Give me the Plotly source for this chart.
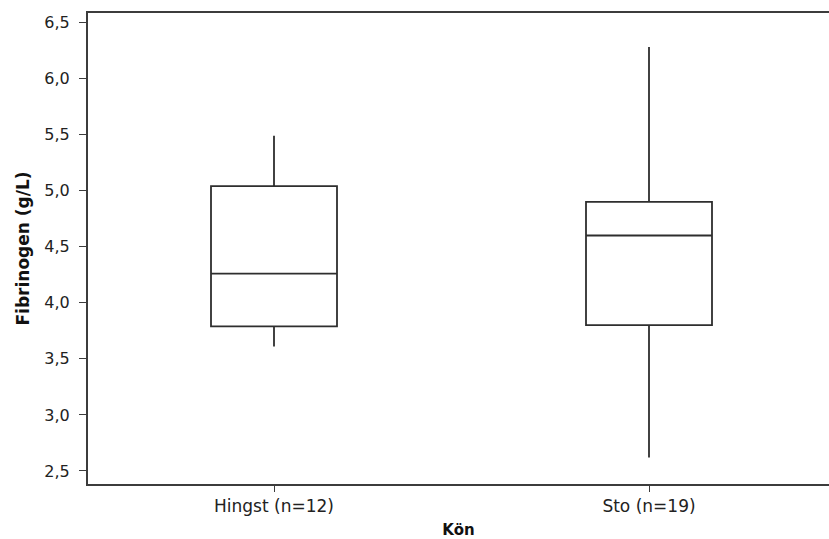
import plotly.graph_objects as go

categories = ["Hingst (n=12)", "Sto (n=19)"]
q1 = [3.79, 3.80]
median = [4.26, 4.60]
q3 = [5.04, 4.90]
lower_whisker = [3.61, 2.62]
upper_whisker = [5.49, 6.28]
y_ticks = [2.5, 3.0, 3.5, 4.0, 4.5, 5.0, 5.5, 6.0, 6.5]

line_col = "#2e2e2e"
axis_col = "#3c3c3c"

fig = go.Figure()
for i, cat in enumerate(categories):
    fig.add_trace(go.Box(
        x=[cat],
        q1=[q1[i]], median=[median[i]], q3=[q3[i]],
        lowerfence=[lower_whisker[i]], upperfence=[upper_whisker[i]],
        width=0.336,
        whiskerwidth=0,
        fillcolor="white",
        line=dict(color=line_col, width=1.8),
        boxpoints=False,
        showlegend=False,
        hoverinfo="skip",
    ))

font_family = "DejaVu Sans, Verdana, sans-serif"

fig.update_layout(
    width=829, height=539,
    margin=dict(l=88, r=0, t=13, b=55),
    paper_bgcolor="white", plot_bgcolor="white",
    separators=", ",
    font=dict(family=font_family, size=16, color="#222222"),
    xaxis=dict(
        type="category",
        categoryorder="array", categoryarray=categories,
        range=[-0.496, 1.48],
        showline=True, linecolor=axis_col, linewidth=2, mirror=True,
        ticks="outside", ticklen=6, tickwidth=1, tickcolor=axis_col,
        showgrid=False, zeroline=False,
        tickfont=dict(size=17, color="#222222"),
        title=dict(text="<b>Kön</b>", font=dict(size=15, color="#111111"), standoff=11),
    ),
    yaxis=dict(
        range=[2.384, 6.584],
        tickvals=y_ticks,
        tickformat=".1f",
        showline=True, linecolor=axis_col, linewidth=2, mirror=False,
        ticks="outside", ticklen=7, tickwidth=1, tickcolor=axis_col,
        showgrid=False, zeroline=False,
        tickfont=dict(size=16, color="#222222"),
        ticklabelstandoff=6,
        title=dict(text="<b>Fibrinogen (g/L)</b>", font=dict(size=17, color="#111111"), standoff=10),
    ),
)

fig.write_html("out.html")
